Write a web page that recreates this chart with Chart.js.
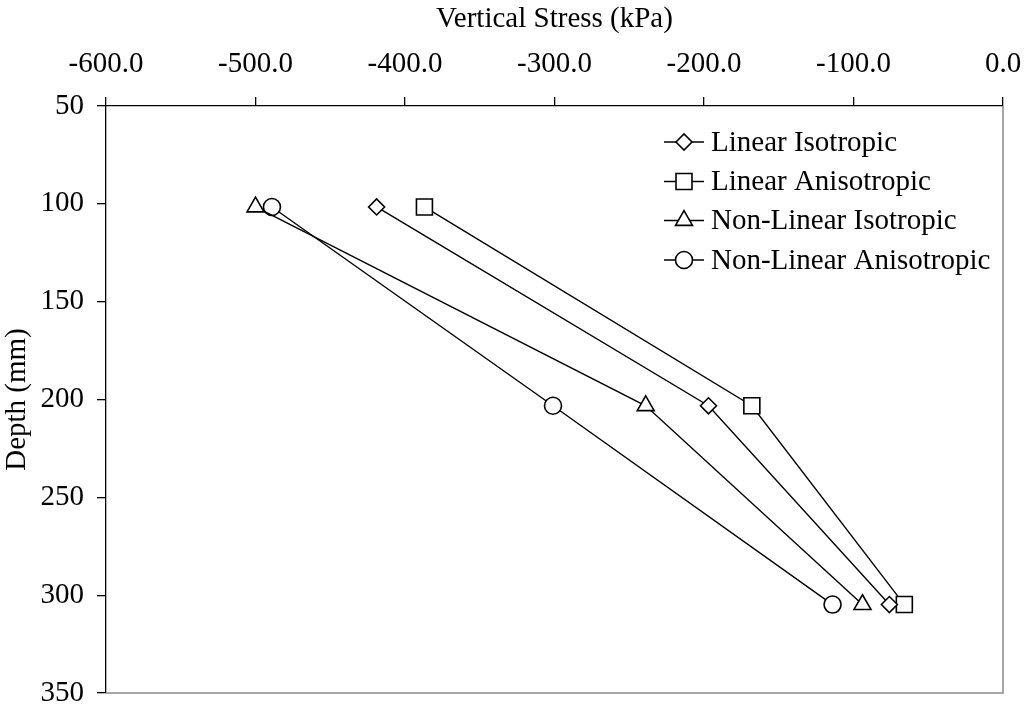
<!DOCTYPE html>
<html>
<head>
<meta charset="utf-8">
<script src="https://cdn.jsdelivr.net/npm/chart.js@4.4.0/dist/chart.umd.min.js"></script>
<style>
  html, body { margin: 0; padding: 0; background: #fff; }
  #wrap { width: 1026px; height: 711px; }
</style>
</head>
<body>
<div id="wrap"><canvas id="chartStress"></canvas></div>
<script>
// depths in mm (4, 8, 12 inch)
const depths = [101.6, 203.2, 304.8];

const seriesNames = ['Linear Isotropic', 'Linear Anisotropic', 'Non-Linear Isotropic', 'Non-Linear Anisotropic'];
const linearIso = [-419, -197, -76];
const linearAniso = [-387, -168, -66];
const nonLinearIso = [-500, -239, -94];
const nonLinearAniso = [-489, -301, -114];

const markers = ['rectRot', 'rect', 'triangle', 'circle'];
const markerSize = [8, 11.3, 9.8, 8.5];

const stressTicks = [-600, -500, -400, -300, -200, -100, 0];
const depthTicks = [50, 100, 150, 200, 250, 300, 350];

const FONT = '"Liberation Serif", "Times New Roman", serif';
const FSIZE = 29;

function toPoints(values) {
    return values.map((v, i) => ({ x: v, y: depths[i] }));
}

const allSeries = [linearIso, linearAniso, nonLinearIso, nonLinearAniso];

const data_stress = {
    datasets: allSeries.map((vals, i) => ({
        label: seriesNames[i],
        data: toPoints(vals),
        showLine: true,
        borderColor: '#000',
        borderWidth: 1.4,
        backgroundColor: '#fff',
        pointStyle: markers[i],
        pointRadius: markerSize[i],
        pointHoverRadius: markerSize[i],
        pointBorderColor: '#000',
        pointBackgroundColor: '#fff',
        pointBorderWidth: 1.6
    }))
};

// right and bottom frame lines
const frame = {
    id: 'frame',
    beforeDatasetsDraw(chart) {
        const a = chart.chartArea;
        const c = chart.ctx;
        c.save();
        c.strokeStyle = '#8a8a8a';
        c.lineWidth = 1.5;
        c.beginPath();
        c.moveTo(a.right, a.top);
        c.lineTo(a.right, a.bottom);
        c.lineTo(a.left, a.bottom);
        c.stroke();
        c.restore();
    }
};

// legend drawn inside the plot area
const insideLegend = {
    id: 'insideLegend',
    afterDraw(chart) {
        const c = chart.ctx;
        const rows = [142, 181.5, 220.5, 260];
        c.save();
        chart.data.datasets.forEach((ds, i) => {
            const y = rows[i];
            c.strokeStyle = '#000';
            c.lineWidth = 1.4;
            c.beginPath();
            c.moveTo(664, y);
            c.lineTo(704, y);
            c.stroke();
            c.fillStyle = '#fff';
            c.lineWidth = 1.6;
            Chart.helpers.drawPoint(c, {
                pointStyle: ds.pointStyle,
                radius: ds.pointRadius,
                rotation: 0,
                borderWidth: 1.6
            }, 684, y);
            c.fillStyle = '#000';
            c.font = FSIZE + 'px ' + FONT;
            c.textBaseline = 'middle';
            c.textAlign = 'left';
            c.fillText(ds.label, 711, y + 1);
        });
        c.restore();
    }
};

const config_stress = {
    type: 'scatter',
    data: data_stress,
    options: {
        responsive: true,
        maintainAspectRatio: false,
        animation: false,
        layout: { padding: { left: 0, top: 0, right: 23, bottom: 18 } },
        plugins: {
            legend: { display: false },
            tooltip: { enabled: false }
        },
        scales: {
            x: {
                type: 'linear',
                position: 'top',
                min: -600,
                max: 0,
                afterBuildTicks: (scale) => { scale.ticks = stressTicks.map(v => ({ value: v })); },
                afterFit: (scale) => {
                    scale.height = 106;
                    scale.paddingLeft = 0;
                    scale.paddingRight = 0;
                },
                grid: { drawOnChartArea: false, drawTicks: true, tickLength: 9, color: '#000', lineWidth: 1.3 },
                border: { display: true, color: '#000', width: 1.3 },
                ticks: {
                    color: '#000',
                    padding: 15,
                    maxRotation: 0,
                    font: { family: FONT, size: FSIZE },
                    callback: function (value) {
                        return value.toFixed(1);
                    }
                },
                title: {
                    display: true,
                    text: 'Vertical Stress (kPa)',
                    color: '#000',
                    padding: { top: 2, bottom: 0 },
                    font: { family: FONT, size: FSIZE }
                }
            },
            y: {
                type: 'linear',
                reverse: true,
                min: 50,
                max: 350,
                afterBuildTicks: (scale) => { scale.ticks = depthTicks.map(v => ({ value: v })); },
                afterFit: (scale) => {
                    scale.width = 106;
                    scale.paddingTop = 0;
                    scale.paddingBottom = 0;
                },
                grid: { drawOnChartArea: false, drawTicks: true, tickLength: 9, color: '#000', lineWidth: 1.3 },
                border: { display: true, color: '#000', width: 1.3 },
                ticks: {
                    color: '#000',
                    padding: 13,
                    font: { family: FONT, size: FSIZE }
                },
                title: {
                    display: true,
                    text: 'Depth (mm)',
                    color: '#000',
                    padding: { top: 0, bottom: 0 },
                    font: { family: FONT, size: FSIZE }
                }
            }
        }
    },
    plugins: [frame, insideLegend]
};

const chart_stress = new Chart(document.getElementById('chartStress').getContext('2d'), config_stress);
</script>
</body>
</html>
